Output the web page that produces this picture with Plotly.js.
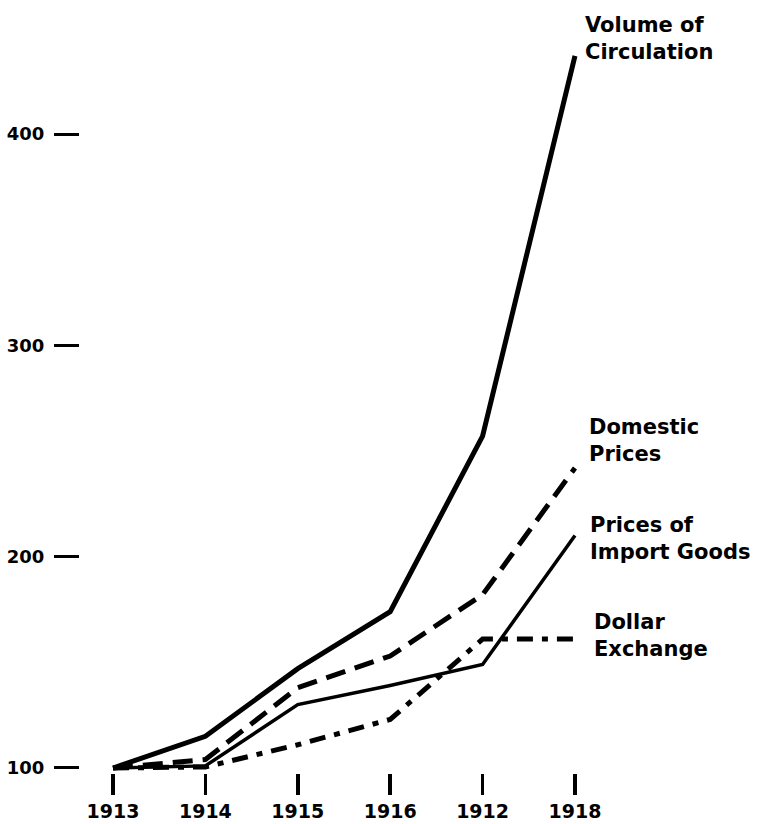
<!DOCTYPE html>
<html>
<head>
<meta charset="utf-8">
<script src="https://cdn.plot.ly/plotly-3.0.1.min.js"></script>
<style>html,body{margin:0;padding:0;background:#fff;}#chart{width:758px;height:824px;}</style>
</head>
<body>
<div id="chart"></div>
<script>
const years = ["1913", "1914", "1915", "1916", "1912", "1918"];
const volumeOfCirculation = [100, 115, 147, 174, 257, 437];
const domesticPrices = [100, 104, 138, 153, 182, 242];
const importGoodsPrices = [100, 101, 130, 139, 149, 210];
const dollarExchange = [100, 100.5, 111, 123, 161, 161];
const yTicks = [100, 200, 300, 400];

const xi = years.map((_, i) => i);
const FONT = "'DejaVu Sans', sans-serif";

const traces = [
  {x: xi, y: volumeOfCirculation, mode: "lines", line: {color: "#000", width: 5}},
  {x: xi, y: domesticPrices, mode: "lines", line: {color: "#000", width: 5, dash: "20px,10px"}},
  {x: xi, y: importGoodsPrices, mode: "lines", line: {color: "#000", width: 3.5}},
  {x: xi, y: dollarExchange, mode: "lines", line: {color: "#000", width: 5, dash: "16px,9px,6px,9px"}}
];

function lab(text, x, y) {
  return {text: text, xref: "paper", yref: "paper", x: x, y: y, xanchor: "left", yanchor: "middle",
          align: "left", showarrow: false, font: {family: FONT, size: 21, color: "#000", weight: "bold"}};
}

const layout = {
  width: 758, height: 824,
  margin: {l: 80, r: 18, t: 20, b: 51},
  paper_bgcolor: "#fff", plot_bgcolor: "#fff",
  showlegend: false,
  xaxis: {
    range: [-0.357, 6.786], tickmode: "array", tickvals: xi, ticktext: years,
    ticks: "outside", ticklen: 21, tickwidth: 3.5, tickcolor: "#000",
    ticklabelstandoff: 0,
    showgrid: false, zeroline: false, showline: false,
    tickfont: {family: FONT, size: 19, color: "#000", weight: "bold"}
  },
  yaxis: {
    range: [97.63, 453.95], tickmode: "array", tickvals: yTicks, ticktext: yTicks.map(String),
    ticks: "outside", ticklen: 25, tickwidth: 3, tickcolor: "#000",
    ticklabelstandoff: 6,
    showgrid: false, zeroline: false, showline: false,
    tickfont: {family: FONT, size: 18, color: "#000", weight: "bold"}
  },
  annotations: [
    lab("Volume of<br>Circulation", 0.762, 0.976),
    lab("Domestic<br>Prices", 0.768, 0.441),
    lab("Prices of<br>Import Goods", 0.770, 0.312),
    lab("Dollar<br>Exchange", 0.776, 0.182)
  ]
};

Plotly.newPlot("chart", traces, layout, {staticPlot: true, displayModeBar: false});
</script>
</body>
</html>
